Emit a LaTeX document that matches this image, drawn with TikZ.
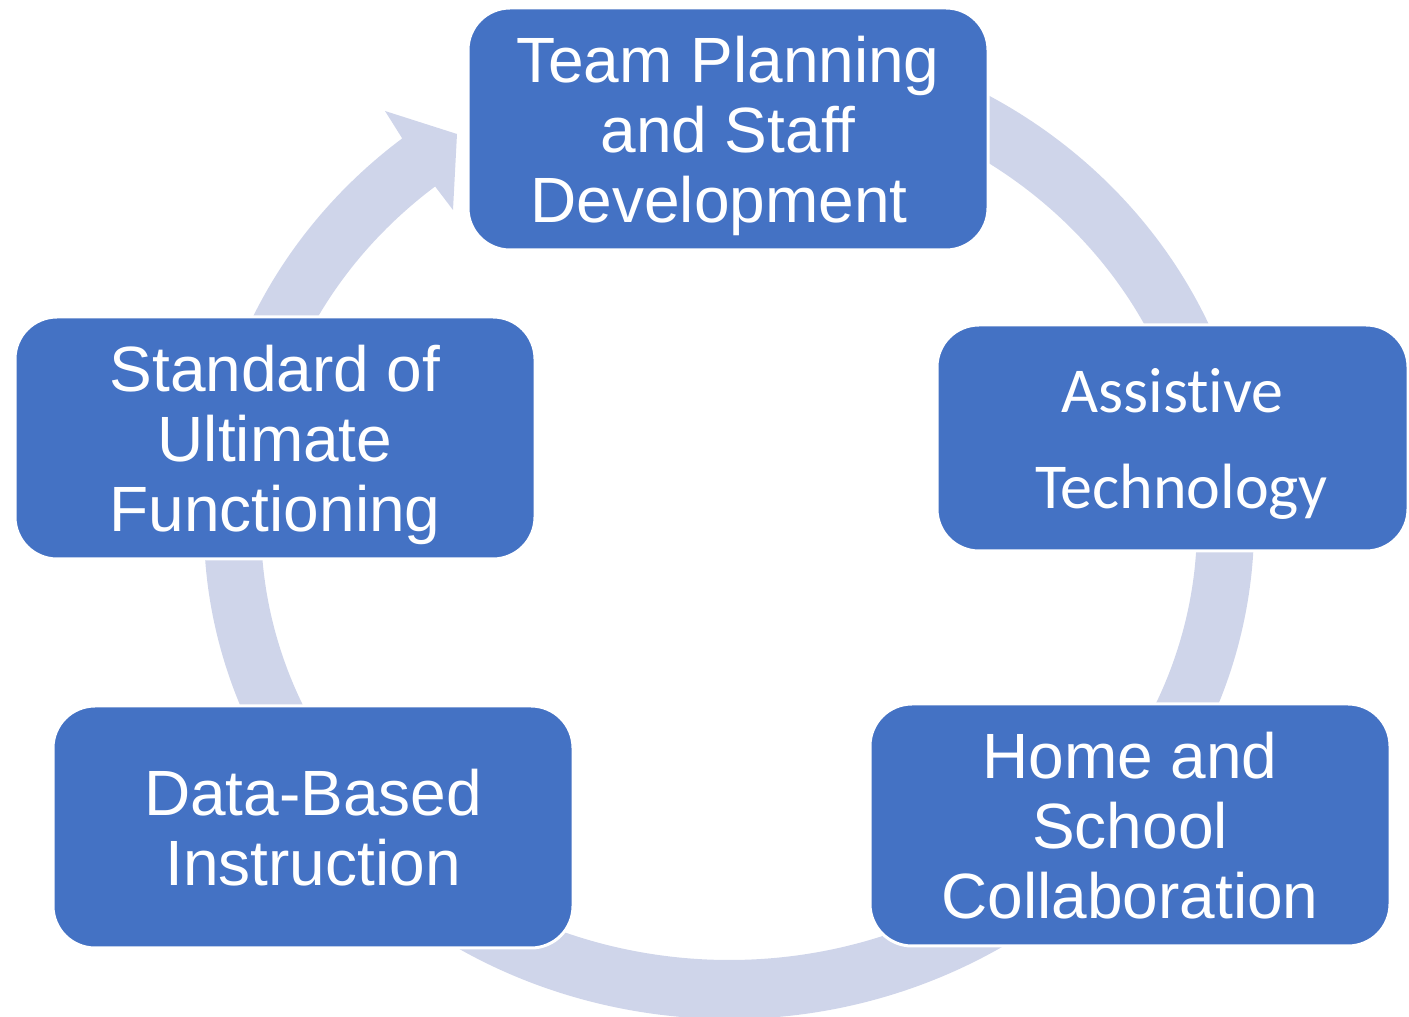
\documentclass[tikz,border=0pt]{standalone}
\usepackage{fontspec}
\setmainfont{Liberation Sans}
\newfontfamily\carlito[Ligatures=NoCommon]{Carlito}
\usetikzlibrary{calc}
\definecolor{stageblue}{HTML}{4472C4}
\definecolor{ringgrey}{HTML}{CFD5EA}
\tikzset{
  stage/.style={draw=white, line width=3pt, fill=stageblue, rounded corners=42pt,
    minimum width=520pt, minimum height=242pt, text=white, align=center,
    text depth=0pt, font=\fontsize{64}{70}\selectfont},
}

\begin{document}
\begin{tikzpicture}[x=1pt,y=1pt]
  %%%%% START %%%%%
  \useasboundingbox (0,0) rectangle (1409,1017);
  \coordinate (c) at (729,492);

  % ring, ends in the arrow head under the top box
  \fill[ringgrey] ($(c)+(80:525 and 494)$)
      arc[start angle=80, end angle=-231.5, x radius=525pt, y radius=494pt]
    -- (385,906) -- (457,883) -- (453,807)
    -- ($(c)+(128.9:468 and 435)$)
      arc[start angle=128.9, end angle=440, x radius=468pt, y radius=435pt]
    -- cycle;

  \node[stage] (team) at (728,888) {Team Planning\\and Staff\\Development\hspace*{18pt}};
  \node[stage, minimum width=471pt, minimum height=226pt,
    font=\carlito\fontsize{64}{96}\selectfont] (tech) at (1172.5,579) {Assistive\\\hspace*{18pt}Technology};
  \node[stage] (home) at (1130,192) {Home and\\School\\Collaboration};
  \node[stage] (data) at (313,190) {Data-Based\\Instruction};
  \node[stage] (ultimate) at (275,579) {Standard of\\Ultimate\\Functioning};

  %%%%% END %%%%%
\end{tikzpicture}
\end{document}
